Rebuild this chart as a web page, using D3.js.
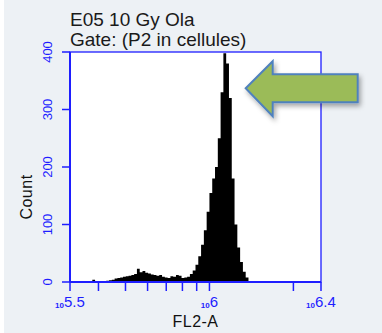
<!DOCTYPE html>
<html>
<head>
<meta charset="utf-8">
<script src="https://cdn.jsdelivr.net/npm/d3@7"></script>
<style>
  body { margin: 0; background: #ffffff; }
  svg { display: block; }
  text { font-family: "Liberation Sans", Arial, sans-serif; }
</style>
</head>
<body>
<div id="chart"></div>
<script>
// histogram of FL2-A, bins 0.01 decade wide starting at 10^5.5
var binStart = 5.5;
var binWidth = 0.01;
var counts = [
    0, 0, 0, 0, 0, 0, 0, 0, 4, 1,
    0, 0, 0, 2, 3, 4, 6, 7, 8, 9,
    10, 11, 12, 14, 23, 17, 19, 16, 15, 13,
    12, 11, 12, 9, 8, 7, 10, 9, 12, 11,
    7, 8, 9, 14, 20, 30, 45, 65, 90, 122,
    155, 180, 200, 250, 330, 398, 380, 320, 180, 100,
    60, 35, 18, 8, 0
];
var yTicks = [0, 100, 200, 300, 400];
var xMajor = ["5.5", "6", "6.4"];
var xMinor = [4e5, 5e5, 6e5, 7e5, 8e5, 9e5, 2e6];
var titleLines = ["E05 10 Gy Ola", "Gate: (P2 in cellules)"];

var width = 382;
var height = 333;
var plotLeft = 70, plotRight = 321, plotTop = 52, plotBottom = 282;
var blue = "#1e1eff";

var svg = d3.select("#chart")
    .append("svg")
    .attr("width", width)
    .attr("height", height);

var defs = svg.append("defs");
var shadow = defs.append("filter")
    .attr("id", "shadow")
    .attr("x", "-20%").attr("y", "-20%")
    .attr("width", "150%").attr("height", "160%");
shadow.append("feDropShadow")
    .attr("dx", 2).attr("dy", 3)
    .attr("stdDeviation", 2.5)
    .attr("flood-color", "#000")
    .attr("flood-opacity", 0.35);

// background
svg.append("rect")
    .attr("x", 4).attr("y", 0)
    .attr("width", width - 4).attr("height", height)
    .attr("fill", "#edf1f5");

var x = d3.scaleLog()
    .domain([Math.pow(10, 5.5), Math.pow(10, 6.4)])
    .range([plotLeft, plotRight]);

var y = d3.scaleLinear()
    .domain([0, 400])
    .range([plotBottom, plotTop]);

svg.append("rect")
    .attr("x", plotLeft).attr("y", plotTop)
    .attr("width", plotRight - plotLeft).attr("height", plotBottom - plotTop)
    .attr("fill", "#ffffff");

// histogram
var pts = counts.map(function (c, i) {
    return { v: Math.pow(10, binStart + i * binWidth), c: c };
});
pts.push({ v: Math.pow(10, binStart + counts.length * binWidth), c: 0 });

var area = d3.area()
    .curve(d3.curveStepAfter)
    .x(function (d) { return x(d.v); })
    .y0(y(0))
    .y1(function (d) { return y(d.c); });

svg.append("path")
    .datum(pts)
    .attr("d", area)
    .attr("fill", "#000");

// frame
svg.append("rect")
    .attr("x", plotLeft).attr("y", plotTop)
    .attr("width", plotRight - plotLeft).attr("height", plotBottom - plotTop)
    .attr("fill", "none")
    .attr("stroke", blue)
    .attr("stroke-width", 1.3);

// y axis
var yAxis = svg.append("g");
yAxis.append("line")
    .attr("x1", plotLeft).attr("x2", plotLeft)
    .attr("y1", plotTop).attr("y2", plotBottom)
    .attr("stroke", blue).attr("stroke-width", 2);
yAxis.selectAll(".yt")
    .data(yTicks)
    .enter().append("line")
    .attr("x1", plotLeft - 8).attr("x2", plotLeft)
    .attr("y1", function (d) { return y(d); })
    .attr("y2", function (d) { return y(d); })
    .attr("stroke", blue).attr("stroke-width", 1.5);
yAxis.selectAll(".yl")
    .data(yTicks)
    .enter().append("text")
    .attr("transform", function (d) { return "translate(52," + y(d) + ") rotate(-90)"; })
    .attr("text-anchor", "middle")
    .attr("fill", blue)
    .attr("font-size", 13)
    .text(function (d) { return d; });

svg.append("text")
    .attr("transform", "translate(32,197) rotate(-90)")
    .attr("text-anchor", "middle")
    .attr("font-size", 16)
    .attr("letter-spacing", 0.5)
    .attr("fill", "#111")
    .text("Count");

// x axis
var xAxis = svg.append("g");
xAxis.append("line")
    .attr("x1", plotLeft).attr("x2", plotRight)
    .attr("y1", plotBottom).attr("y2", plotBottom)
    .attr("stroke", blue).attr("stroke-width", 2);
var allTicks = xMajor.map(function (e) { return Math.pow(10, +e); }).concat(xMinor);
xAxis.selectAll(".xt")
    .data(allTicks)
    .enter().append("line")
    .attr("x1", function (d) { return x(d); })
    .attr("x2", function (d) { return x(d); })
    .attr("y1", plotBottom).attr("y2", plotBottom + 9)
    .attr("stroke", blue).attr("stroke-width", 1.5);

var xl = xAxis.selectAll(".xl")
    .data(xMajor)
    .enter().append("text")
    .attr("x", function (d) { return x(Math.pow(10, +d)); })
    .attr("y", 308)
    .attr("text-anchor", "middle")
    .attr("fill", blue);
xl.append("tspan")
    .attr("font-size", 8)
    .attr("font-weight", "bold")
    .text("10");
xl.append("tspan")
    .attr("font-size", 15)
    .attr("dy", -1)
    .text(function (d) { return d; });

svg.append("text")
    .attr("x", (plotLeft + plotRight) / 2)
    .attr("y", 327)
    .attr("text-anchor", "middle")
    .attr("font-size", 16)
    .attr("letter-spacing", 0.5)
    .attr("fill", "#111")
    .text("FL2-A");

// title
svg.selectAll(".title")
    .data(titleLines)
    .enter().append("text")
    .attr("x", plotLeft)
    .attr("y", function (d, i) { return 26 + i * 20; })
    .attr("font-size", 19)
    .attr("fill", "#1a1a1a")
    .text(function (d) { return d; });

// annotation arrow pointing at the peak
var tipX = x(Math.pow(10, 6.13));
var tipY = y(337);
var arrow = [
    [tipX, tipY],
    [tipX + 27, tipY - 27],
    [tipX + 27, tipY - 14],
    [tipX + 112, tipY - 14],
    [tipX + 112, tipY + 14],
    [tipX + 27, tipY + 14],
    [tipX + 27, tipY + 28]
];
svg.append("polygon")
    .attr("points", arrow.map(function (p) { return p.join(","); }).join(" "))
    .attr("fill", "#9bbb59")
    .attr("stroke", "#4f81bd")
    .attr("stroke-width", 2)
    .attr("stroke-linejoin", "miter")
    .attr("filter", "url(#shadow)");
</script>
</body>
</html>
